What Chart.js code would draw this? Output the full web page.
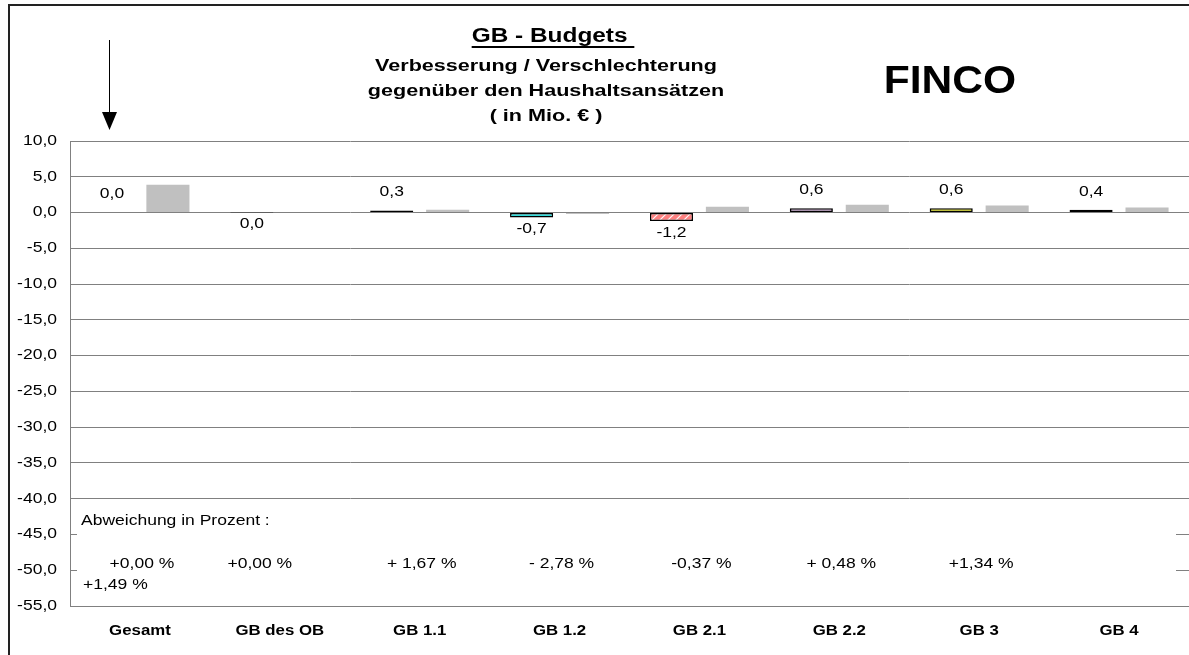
<!DOCTYPE html>
<html>
<head>
<meta charset="utf-8">
<script src="https://cdn.jsdelivr.net/npm/chart.js@4/dist/chart.umd.min.js"></script>
<style>
  html, body { margin: 0; padding: 0; background: #fff; overflow: hidden; }
  #wrap { width: 1189px; height: 655px; position: relative; }
</style>
</head>
<body>
<div id="wrap"><canvas id="c" width="1189" height="655"></canvas></div>
<script>
// ---- data ----
const categories = ['Gesamt', 'GB des OB', 'GB 1.1', 'GB 1.2', 'GB 2.1', 'GB 2.2', 'GB 3', 'GB 4'];
const deviationValues = [0.0, -0.01, 0.3, -0.7, -1.2, 0.6, 0.6, 0.4];
const comparisonValues = [3.9, 0.0, 0.4, -0.2, 0.8, 1.1, 1.0, 0.7];
const percentLabels = ['+0,00 %', '+0,00 %', '+ 1,67 %', '- 2,78 %', '-0,37 %', '+ 0,48 %', '+1,34 %', ''];
const extraPercentLabel = '+1,49 %';
const yTicks = { min: -55, max: 10, step: 5 };

const FONT = '"Liberation Sans", Arial, sans-serif';
const SX = 1.25; // horizontal stretch of the original's text

function sText(ctx, text, x, y, align, sx) {
  ctx.save();
  ctx.translate(x, y);
  ctx.scale(sx, 1);
  ctx.textAlign = align;
  ctx.fillText(text, 0, 0);
  ctx.restore();
}

function makePattern(bg, kind) {
  const c = document.createElement('canvas');
  c.width = 8; c.height = 8;
  const g = c.getContext('2d');
  g.fillStyle = bg; g.fillRect(0, 0, 8, 8);
  g.strokeStyle = 'rgba(255,255,255,0.95)';
  g.lineWidth = 1.2;
  if (kind === 'diag') {
    g.beginPath();
    g.moveTo(0, 8); g.lineTo(8, 0);
    g.moveTo(-2, 2); g.lineTo(2, -2);
    g.moveTo(6, 10); g.lineTo(10, 6);
    g.stroke();
  } else if (kind === 'dash') {
    g.beginPath();
    g.moveTo(1, 3.5); g.lineTo(5, 3.5);
    g.stroke();
  }
  return g.createPattern(c, 'repeat');
}

const colFills = [
  '#000000',
  '#000000',
  '#000000',
  makePattern('#33DDDD', 'dash'),
  makePattern('#FF8080', 'diag'),
  makePattern('#D0A0D8', 'dash'),
  '#FFFF00',
  '#800000'
];

const fmt = v => (Math.abs(v) < 0.05 ? 0 : v).toFixed(1).replace('.', ',');

const decoPlugin = {
  id: 'deco',
  beforeDatasetsDraw(chart) {
    const ctx = chart.ctx;
    const a = chart.chartArea;
    const y = chart.scales.y;
    ctx.save();
    ctx.fillStyle = '#ffffff';
    const top = y.getPixelForValue(-40) + 1;
    ctx.fillRect(a.left + 7, top, 1176 - (a.left + 7), a.bottom - top - 1);
    ctx.restore();
  },
  afterDatasetsDraw(chart) {
    const ctx = chart.ctx;
    const meta = chart.getDatasetMeta(0);
    ctx.save();
    ctx.font = '14px ' + FONT;
    ctx.fillStyle = '#000';
    ctx.textBaseline = 'middle';
    meta.data.forEach((bar, i) => {
      const v = deviationValues[i];
      const yy = v >= 0 ? bar.y - 18 : bar.y + 12;
      sText(ctx, fmt(v), bar.x, yy, 'center', SX);
    });
    ctx.restore();
  },
  afterDraw(chart) {
    const ctx = chart.ctx;
    const x = chart.scales.x;
    const y = chart.scales.y;
    ctx.save();
    ctx.fillStyle = '#000';
    ctx.textBaseline = 'middle';

    // axis tick labels
    ctx.font = '14px ' + FONT;
    y.ticks.forEach(t => {
      sText(ctx, Number(t.value).toFixed(1).replace('.', ','), 57, y.getPixelForValue(t.value), 'right', SX);
    });
    ctx.font = 'bold 14px ' + FONT;
    x.getLabels().forEach((lab, i) => {
      sText(ctx, lab, x.getPixelForValue(i), 631, 'center', 1.2);
    });

    // outer frame
    ctx.strokeStyle = '#222';
    ctx.lineWidth = 2;
    ctx.beginPath();
    ctx.moveTo(9, 700); ctx.lineTo(9, 5); ctx.lineTo(1200, 5);
    ctx.stroke();

    // titles
    ctx.font = 'bold 20px ' + FONT;
    const t1 = 'GB - Budgets ';
    sText(ctx, t1, 553, 36, 'center', 1.22);
    const w1 = ctx.measureText(t1).width * 1.22;
    ctx.fillRect(553 - w1 / 2, 46, w1, 2);
    ctx.font = 'bold 17px ' + FONT;
    sText(ctx, 'Verbesserung / Verschlechterung', 546, 66, 'center', 1.27);
    sText(ctx, 'gegenüber den Haushaltsansätzen', 546, 91, 'center', 1.27);
    sText(ctx, '( in Mio. € )', 546, 116, 'center', 1.27);
    ctx.font = 'bold 38px ' + FONT;
    sText(ctx, 'FINCO', 950, 83, 'center', 1.12);

    // arrow
    ctx.strokeStyle = '#000';
    ctx.lineWidth = 1;
    ctx.beginPath();
    ctx.moveTo(109.5, 40); ctx.lineTo(109.5, 115);
    ctx.stroke();
    ctx.beginPath();
    ctx.moveTo(102, 112); ctx.lineTo(117, 112); ctx.lineTo(109.5, 130); ctx.closePath();
    ctx.fill();

    // percentage box texts
    ctx.font = '14px ' + FONT;
    sText(ctx, 'Abweichung in Prozent :', 81, 521, 'left', SX);
    sText(ctx, extraPercentLabel, 83, 585, 'left', SX);
    percentLabels.forEach((p, i) => {
      if (!p) return;
      const px = x.getPixelForValue(i) + (i === 1 ? -20 : 2);
      sText(ctx, p, px, 564, 'center', SX);
    });
    ctx.restore();
  }
};

new Chart(document.getElementById('c'), {
  type: 'bar',
  data: {
    labels: categories,
    datasets: [
      {
        label: 'Abweichung',
        data: deviationValues,
        backgroundColor: colFills,
        borderColor: '#000',
        borderWidth: 1.5,
        borderSkipped: false,
        categoryPercentage: 0.8,
        barPercentage: 0.77
      },
      {
        label: 'Vergleich',
        data: comparisonValues,
        backgroundColor: '#C0C0C0',
        borderWidth: 0,
        categoryPercentage: 0.8,
        barPercentage: 0.77
      }
    ]
  },
  options: {
    responsive: false,
    animation: false,
    devicePixelRatio: 1,
    layout: { padding: { top: 141, left: 0, right: 0, bottom: 0 } },
    plugins: {
      legend: { display: false },
      tooltip: { enabled: false },
      title: { display: false }
    },
    scales: {
      x: {
        grid: { display: false, drawTicks: false },
        border: { display: true, color: '#808080', width: 1 },
        ticks: { display: false, autoSkip: false },
        afterFit(s) { s.height = 49; }
      },
      y: {
        min: yTicks.min,
        max: yTicks.max,
        grid: { color: '#808080', lineWidth: 1, drawTicks: false },
        border: { display: true, color: '#808080', width: 1 },
        ticks: { display: false, stepSize: yTicks.step },
        afterFit(s) { s.width = 70; }
      }
    }
  },
  plugins: [decoPlugin]
});
</script>
</body>
</html>
